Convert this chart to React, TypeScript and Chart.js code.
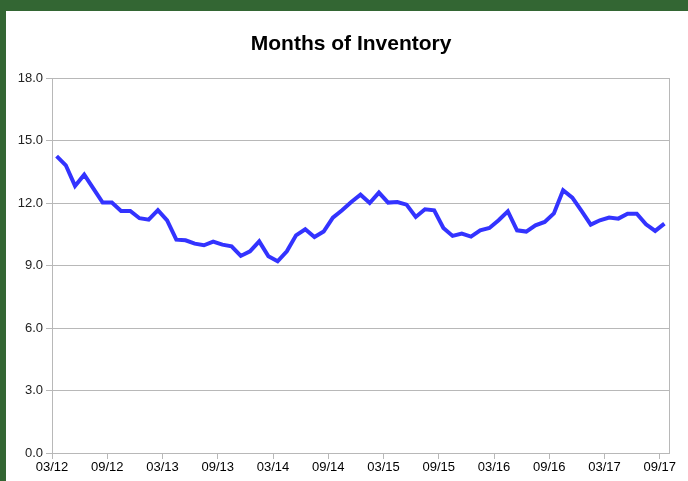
import React, { useEffect, useRef } from "react";
import { Chart, registerables } from "chart.js";

Chart.register(...registerables);

const titleText = "Months of Inventory";
const startMonth = 3;
const startYear = 2012;
const inventoryValues = [
  14.25, 13.81, 12.82, 13.36, 12.69, 12.02, 12.02, 11.62, 11.62, 11.27,
  11.2, 11.66, 11.17, 10.24, 10.21, 10.05, 9.97, 10.15, 10.0, 9.92,
  9.46, 9.68, 10.16, 9.44, 9.2, 9.68, 10.45, 10.74, 10.37, 10.63,
  11.3, 11.65, 12.05, 12.4, 12.0, 12.5, 12.02, 12.05, 11.92, 11.33,
  11.7, 11.65, 10.8, 10.42, 10.53, 10.39, 10.69, 10.8, 11.17, 11.6,
  10.69, 10.63, 10.93, 11.09, 11.5, 12.61, 12.26, 11.62, 10.96, 11.17,
  11.3, 11.25, 11.49, 11.49, 10.98, 10.66, 11.01,
];
const xTickLabels = [
  "03/12", "09/12", "03/13", "09/13", "03/14", "09/14",
  "03/15", "09/15", "03/16", "09/16", "03/17", "09/17",
];
const yTicks = [0, 3, 6, 9, 12, 15, 18];

const monthLabels = inventoryValues.map((_, i) => {
  const m = ((startMonth - 1 + i) % 12) + 1;
  const y = startYear + Math.floor((startMonth - 1 + i) / 12);
  return `${String(m).padStart(2, "0")}/${String(y % 100).padStart(2, "0")}`;
});

const GREEN = "#336633";
const GRID = "#b8b8b8";
const FONT = "'Liberation Sans', Arial, sans-serif";

export default function App() {
  const ref = useRef<HTMLCanvasElement | null>(null);

  useEffect(() => {
    if (!ref.current) return;
    const decorations = {
      id: "decorations",
      afterDatasetsDraw(chart: any) {
        const { ctx, chartArea } = chart;
        ctx.save();
        ctx.strokeStyle = GRID;
        ctx.lineWidth = 1;
        ctx.beginPath();
        const x = Math.round(chartArea.right) + 0.5;
        ctx.moveTo(x, chartArea.top);
        ctx.lineTo(x, chartArea.bottom);
        ctx.stroke();
        ctx.restore();
      },
      afterDraw(chart: any) {
        const { ctx } = chart;
        ctx.save();
        ctx.fillStyle = "#000";
        ctx.font = `bold 21px ${FONT}`;
        ctx.textAlign = "center";
        ctx.textBaseline = "middle";
        ctx.fillText(titleText, chart.width * 0.506, 33);
        ctx.restore();
      },
    };
    const chart = new Chart(ref.current, {
      type: "line",
      data: {
        labels: monthLabels,
        datasets: [
          {
            label: titleText,
            data: inventoryValues.map((v, i) => ({ x: i + 0.5, y: v })),
            borderColor: "#3333ff",
            backgroundColor: "#3333ff",
            borderWidth: 4,
            pointRadius: 0,
            tension: 0,
            fill: false,
          },
        ],
      },
      plugins: [decorations],
      options: {
        animation: false,
        responsive: false,
        maintainAspectRatio: false,
        layout: { padding: { left: 0, right: 19, top: 67, bottom: 0 } },
        plugins: {
          legend: { display: false },
          tooltip: { enabled: false },
          title: { display: false },
        },
        scales: {
          x: {
            type: "linear",
            min: 0,
            max: inventoryValues.length,
            afterFit: (s: any) => {
              s.height = 28;
            },
            afterBuildTicks: (s: any) => {
              s.ticks = xTickLabels.map((_, i) => ({ value: i * 6 }));
            },
            ticks: {
              autoSkip: false,
              maxRotation: 0,
              padding: 1,
              color: "#000",
              font: { family: FONT, size: 13 },
              callback: (v: any) => xTickLabels[Math.round(Number(v) / 6)] ?? "",
            },
            grid: {
              drawOnChartArea: false,
              drawTicks: true,
              tickLength: 6,
              color: GRID,
            },
            border: { display: true, color: GRID },
          },
          y: {
            min: 0,
            max: 18,
            afterFit: (s: any) => {
              s.width = 46;
            },
            afterBuildTicks: (s: any) => {
              s.ticks = yTicks.map((v) => ({ value: v }));
            },
            ticks: {
              padding: 3,
              color: "#222",
              font: { family: FONT, size: 13 },
              callback: (v: any) => Number(v).toFixed(1),
            },
            grid: { color: GRID, tickLength: 6, drawTicks: true },
            border: { display: true, color: GRID },
          },
        },
      },
    });
    return () => chart.destroy();
  }, []);

  return (
    <div
      style={{
        position: "fixed",
        left: 0,
        top: 0,
        width: 688,
        height: 481,
        background: GREEN,
        overflow: "hidden",
      }}
    >
      <div
        style={{
          position: "absolute",
          left: 6,
          top: 11,
          width: 682,
          height: 470,
          background: "#fff",
        }}
      >
        <canvas ref={ref} width={682} height={470} style={{ display: "block" }} />
      </div>
    </div>
  );
}
